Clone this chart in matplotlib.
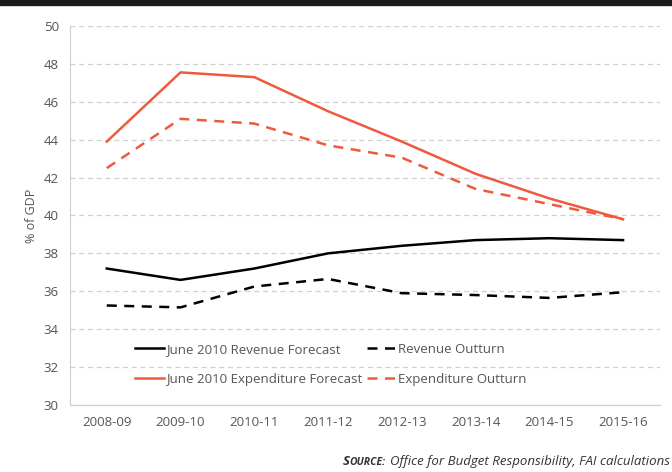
# revenue and expenditure, forecast vs outturn, % of GDP
import numpy as np
import matplotlib.pyplot as plt

years = ['2008-09', '2009-10', '2010-11', '2011-12', '2012-13', '2013-14', '2014-15', '2015-16']
rev_fc  = [37.2, 36.6, 37.2, 38.0, 38.4, 38.7, 38.8, 38.7]
rev_out = [35.25, 35.15, 36.25, 36.65, 35.9, 35.8, 35.65, 35.95]
exp_fc  = [43.9, 47.55, 47.3, 45.5, 43.9, 42.2, 40.9, 39.8]
exp_out = [42.5, 45.1, 44.85, 43.7, 43.05, 41.4, 40.6, 39.8]

plt.rcParams['font.family'] = ['Open Sans', 'DejaVu Sans']
grey = '#555555'
orange = '#F0593E'

fig = plt.figure(figsize=(6.72, 4.72), dpi=100)
ax = fig.add_axes([0.104, 0.142, 0.878, 0.803])
x = np.arange(len(years))

ax.plot(x, rev_fc, color='black', lw=1.8, label='June 2010 Revenue Forecast')
ax.plot(x, rev_out, color='black', lw=1.8, ls=(0, (4, 3)), label='Revenue Outturn')
ax.plot(x, exp_fc, color=orange, lw=1.8, label='June 2010 Expenditure Forecast')
ax.plot(x, exp_out, color=orange, lw=1.8, ls=(0, (4, 3)), label='Expenditure Outturn')

ax.set_xlim(-0.5, len(years) - 0.5)
ax.set_ylim(30, 50)
ax.set_yticks(np.arange(30, 51, 2))
ax.set_xticks(x)
ax.set_xticklabels(years)
ax.tick_params(length=0, labelsize=9.5, colors=grey, pad=8)
ax.grid(axis='y', color='#d0d0d0', ls=(0, (4, 3)), lw=0.9)
ax.set_axisbelow(True)
for s in ['top', 'right']:
    ax.spines[s].set_visible(False)
for s in ['left', 'bottom']:
    ax.spines[s].set_color('#cccccc')
ax.set_ylabel('% of GDP', color=grey, fontsize=9, labelpad=4)

# legend order as in the picture: row-wise
h, l = ax.get_legend_handles_labels()
order = [0, 2, 1, 3]
ax.legend([h[i] for i in order], [l[i] for i in order], ncol=2, frameon=False,
          loc='lower left', bbox_to_anchor=(0.09, 0.02), fontsize=9.5,
          labelcolor=grey, handlelength=2.2, handletextpad=0.2,
          columnspacing=0.3, labelspacing=1.25)

# black bar across the top
fig.add_artist(plt.Line2D([0, 1], [0.995, 0.995], color='#1a1a1a', lw=6,
                          transform=fig.transFigure))

ys = 0.008
t1 = fig.text(0.997, ys, 'Office for Budget Responsibility, FAI calculations',
              ha='right', va='bottom', fontsize=9.5, fontstyle='italic', color='#333333')
fig.canvas.draw()
bb = t1.get_window_extent()
t2 = fig.text(bb.x0 / fig.bbox.width - 0.006, ys, 'OURCE:', ha='right', va='bottom',
              fontsize=7.5, fontstyle='italic', fontweight='bold', color='#333333')
fig.canvas.draw()
bb2 = t2.get_window_extent()
fig.text(bb2.x0 / fig.bbox.width, ys, 'S', ha='right', va='bottom',
         fontsize=9.5, fontstyle='italic', fontweight='bold', color='#333333')

fig.savefig('out.png', dpi=100)
